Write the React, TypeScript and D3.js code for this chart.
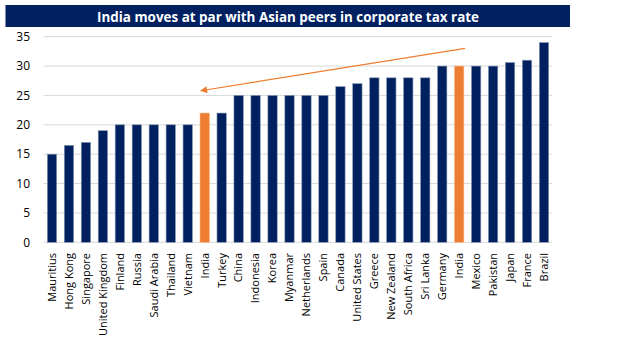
import React from 'react';
import * as d3 from 'd3';

const countries = [
  'Mauritius', 'Hong Kong', 'Singapore', 'United Kingdom', 'Finland', 'Russia',
  'Saudi Arabia', 'Thailand', 'Vietnam', 'India', 'Turkey', 'China', 'Indonesia',
  'Korea', 'Myanmar', 'Netherlands', 'Spain', 'Canada', 'United States', 'Greece',
  'New Zealand', 'South Africa', 'Sri Lanka', 'Germany', 'India', 'Mexico',
  'Pakistan', 'Japan', 'France', 'Brazil',
];
const taxRates = [
  15, 16.5, 17, 19, 20, 20, 20, 20, 20, 22, 22, 25, 25, 25, 25, 25, 25, 26.5,
  27, 28, 28, 28, 28, 30, 30, 30, 30, 30.6, 31, 34,
];
// which bars are India (highlighted)
const highlight = [9, 24];
const yTicks = [0, 5, 10, 15, 20, 25, 30, 35];
const title = 'India moves at par with Asian peers in corporate tax rate';
// arrow: from just right of the current India bar back to the old one
const arrowFrom = { idx: 24, shift: 0.35, value: 33.0 };
const arrowTo = { idx: 9, shift: -0.23, value: 25.8 };

const W = 638;
const H = 352;
const navy = '#002060';
const orange = '#ED7D31';

export default function App() {
  const x = d3.scaleBand<number>()
    .domain(d3.range(countries.length))
    .range([43.5, 552.5])
    .paddingInner(0.45)
    .paddingOuter(0.225);
  const y = d3.scaleLinear().domain([0, 35]).range([242.3, 36.7]);

  const px = (p: { idx: number; shift: number }) => x(p.idx)! + x.bandwidth() / 2 + p.shift * x.step();
  const ax1 = px(arrowFrom);
  const ay1 = y(arrowFrom.value);
  const ax2 = px(arrowTo);
  const ay2 = y(arrowTo.value);

  return (
    <svg width={W} height={H} style={{ position: 'absolute', left: 0, top: 0, background: '#fff' }}
      fontFamily="'Open Sans', 'Liberation Sans', sans-serif">
      <defs>
        <marker id="ah" viewBox="0 0 10 10" refX="9" refY="5" markerWidth="9" markerHeight="7"
          orient="auto" markerUnits="userSpaceOnUse">
          <path d="M0,0 L10,5 L0,10 z" fill={orange} />
        </marker>
      </defs>

      <rect x={5.5} y={5} width={564.5} height={22} fill={navy} />
      <text x={288} y={21.5} fill="#fff" fontSize={14} fontWeight="bold" textAnchor="middle"
        textLength={382} lengthAdjust="spacingAndGlyphs">{title}</text>

      {yTicks.map(t => (
        <g key={t}>
          <line x1={43.5} x2={552.5} y1={y(t)} y2={y(t)} stroke="#D9D9D9" strokeWidth={1} />
          <text x={30} y={y(t)} dy="0.35em" textAnchor="end" fontSize={12} fill="#000">{t}</text>
        </g>
      ))}

      {taxRates.map((v, i) => (
        <rect key={i} x={x(i)} y={y(v)} width={x.bandwidth()} height={y(0) - y(v)}
          fill={highlight.includes(i) ? orange : navy}
          stroke={highlight.includes(i) ? '#F4B183' : '#8497B0'} strokeWidth={0.6} />
      ))}

      {countries.map((c, i) => {
        const cx = x(i)! + x.bandwidth() / 2;
        return (
          <text key={i} transform={`translate(${cx},253) rotate(-90)`} textAnchor="end" dy="0.35em"
            fontSize={11} fill="#000">{c}</text>
        );
      })}

      <line x1={ax1} y1={ay1} x2={ax2} y2={ay2} stroke={orange} strokeWidth={1.2} markerEnd="url(#ah)" />
    </svg>
  );
}
